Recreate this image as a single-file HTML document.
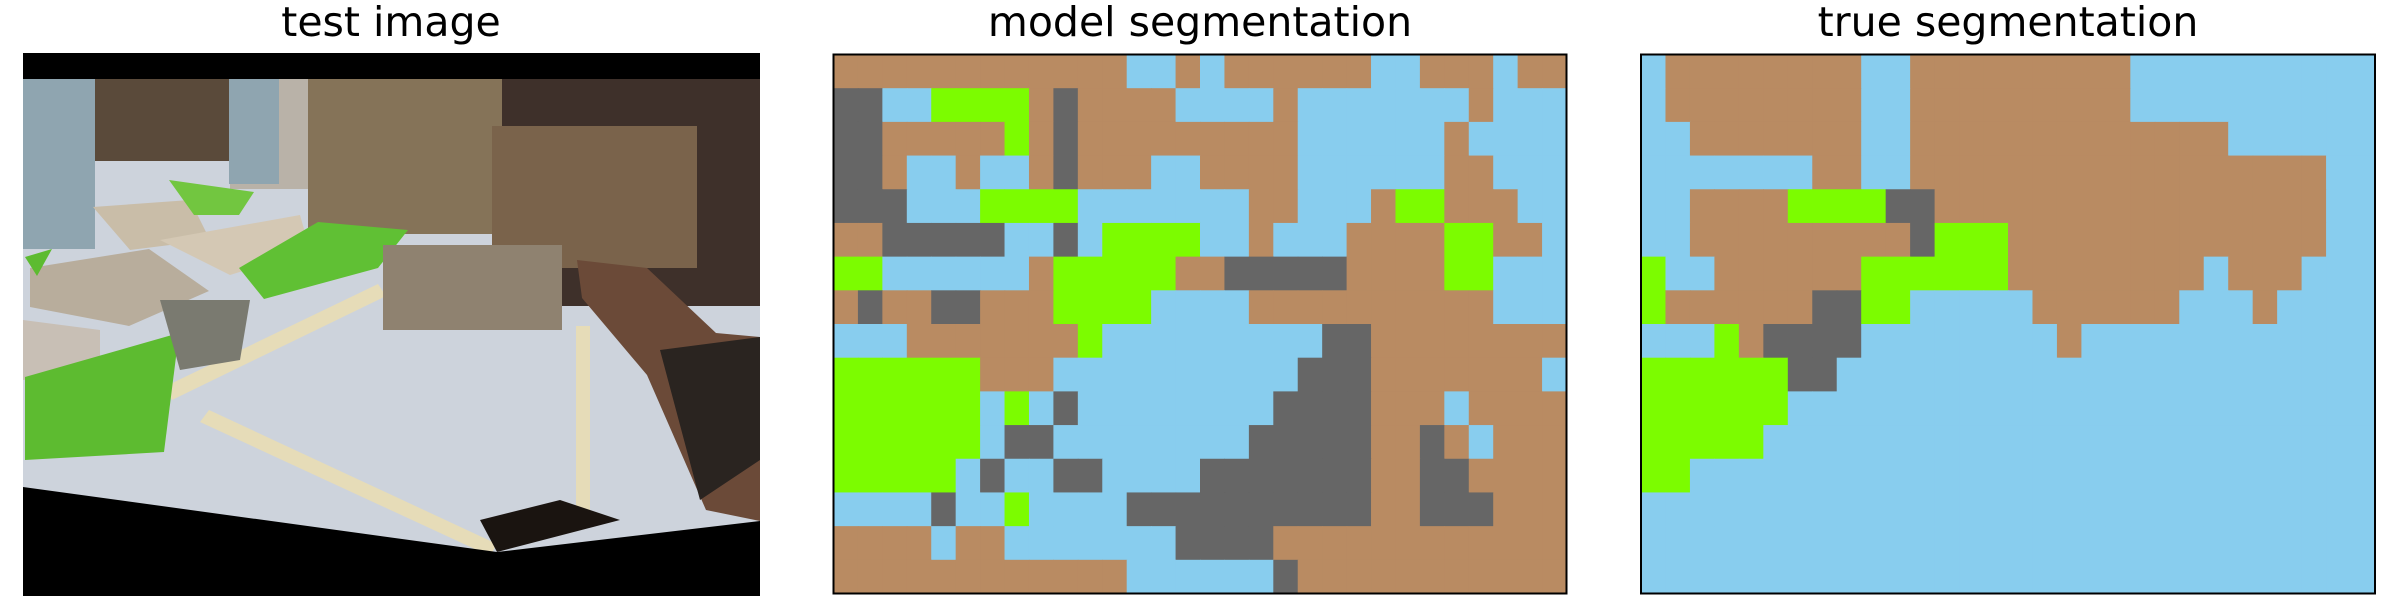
<!DOCTYPE html>
<html><head><meta charset="utf-8"><style>
html,body{margin:0;padding:0;background:#fff;width:2400px;height:600px;overflow:hidden}
svg{display:block}
text{font-family:"DejaVu Sans","Liberation Sans",sans-serif;font-size:41px;fill:#000}
</style></head><body>
<svg id="fig" width="2400" height="600" viewBox="0 0 2400 600">
<text x="391" y="36" text-anchor="middle">test image</text>
<text x="1200" y="36" text-anchor="middle">model segmentation</text>
<text x="2008" y="36" text-anchor="middle">true segmentation</text>
<g>
<clipPath id="imgclip"><rect x="23" y="53" width="737" height="543"/></clipPath>
<g clip-path="url(#imgclip)">
<rect x="23" y="53" width="737" height="543" fill="#cdd3dc"/>
<rect x="23" y="53" width="737" height="26" fill="#000"/>
<rect x="70" y="79" width="160" height="82" fill="#5a4a3a"/>
<rect x="230" y="79" width="80" height="110" fill="#b9b2a8"/>
<rect x="229" y="79" width="50" height="105" fill="#8fa5b0"/>
<rect x="23" y="79" width="72" height="170" fill="#8fa5b0"/>
<rect x="308" y="79" width="194" height="155" fill="#857358"/>
<rect x="502" y="79" width="258" height="227" fill="#3e302a"/>
<rect x="492" y="126" width="205" height="142" fill="#7a634b"/>
<polygon points="93,207 190,200 210,240 130,250" fill="#c9bda8"/>
<polygon points="160,240 300,215 310,250 230,275" fill="#d4c8b4"/>
<polygon points="30,268 149,249 209,291 129,326 30,307" fill="#b8ad9c"/>
<polygon points="23,320 100,330 100,370 23,380" fill="#c8bfb5"/>
<polygon points="164,387 378,284 386,296 172,400" fill="#e6dcb8"/>
<polygon points="209,410 497,544 490,556 200,422" fill="#e6dcb8"/>
<rect x="576" y="326" width="14" height="190" fill="#e6dcb8"/>
<polygon points="25,377 179,333 164,452 25,460" fill="#5dbb30"/>
<polygon points="239,268 318,222 408,230 378,268 264,299" fill="#60c034"/>
<polygon points="169,180 254,192 239,215 194,215" fill="#72c640"/>
<polygon points="25,257 52,249 37,276" fill="#5dbb30"/>
<polygon points="160,300 250,300 240,360 180,370" fill="#7a7a70"/>
<rect x="383" y="245" width="179" height="85" fill="#8f8270"/>
<polygon points="577,260 647,268 716,333 760,337 760,521 706,510 647,375 582,298" fill="#6b4a38"/>
<polygon points="660,350 760,337 760,460 700,500" fill="#2a2420"/>
<polygon points="23,487 497,552 760,521 760,596 23,596" fill="#000"/>
<polygon points="480,520 560,500 620,520 497,552" fill="#1a1410"/>
</g>
</g>
<g id="model"></g>
<g id="truth"></g>
<rect x="833.5" y="54.5" width="733" height="539" fill="none" stroke="#000" stroke-width="2"/>
<rect x="1641" y="54.5" width="734" height="539" fill="none" stroke="#000" stroke-width="2"/>
</svg>
<script>
const classColors = {B:"#b98b62", L:"#88cdee", G:"#7cfc00", D:"#666666"};
const modelRows = [
"BBBBBBBBBBBBLLBLBBBBBBLLBBBLBB",
"DDLLGGGGBDBBBBLLLLBLLLLLLLBLLL",
"DDBBBBBGBDBBBBBBBBBLLLLLLBLLLL",
"DDBLLBLLBDBBBLLBBBBLLLLLLBBLLL",
"DDDLLLGGGGLLLLLLLBBLLLBGGBBBLL",
"BBDDDDDLLDLGGGGLLBLLLBBBBGGBBL",
"GGLLLLLLBGGGGGBBDDDDDBBBBGGLLL",
"BDBBDDBBBGGGGLLLLBBBBBBBBBBLLL",
"LLLBBBBBBBGLLLLLLLLLDDBBBBBBBB",
"GGGGGGBBBLLLLLLLLLLDDDBBBBBBBL",
"GGGGGGLGLDLLLLLLLLDDDDBBBLBBBB",
"GGGGGGLDDLLLLLLLLDDDDDBBDBLBBB",
"GGGGGLDLLDDLLLLDDDDDDDBBDDBBBB",
"LLLLDLLGLLLLDDDDDDDDDDBBDDDBBB",
"BBBBLBBLLLLLLLDDDDBBBBBBBBBBBB",
"BBBBBBBBBBBBLLLLLLDBBBBBBBBBBB"
];
const trueRows = [
"LBBBBBBBBLLBBBBBBBBBLLLLLLLLLL",
"LBBBBBBBBLLBBBBBBBBBLLLLLLLLLL",
"LLBBBBBBBLLBBBBBBBBBBBBBLLLLLL",
"LLLLLLLBBLLBBBBBBBBBBBBBBBBBLL",
"LLBBBBGGGGDDBBBBBBBBBBBBBBBBLL",
"LLBBBBBBBBBDGGGBBBBBBBBBBBBBLL",
"GLLBBBBBBGGGGGGBBBBBBBBLBBBLLL",
"GBBBBBBDDGGLLLLLBBBBBBLLLBLLLL",
"LLLGBDDDDLLLLLLLLBLLLLLLLLLLLL",
"GGGGGGDDLLLLLLLLLLLLLLLLLLLLLL",
"GGGGGGLLLLLLLLLLLLLLLLLLLLLLLL",
"GGGGGLLLLLLLLLLLLLLLLLLLLLLLLL",
"GGLLLLLLLLLLLLLLLLLLLLLLLLLLLL",
"LLLLLLLLLLLLLLLLLLLLLLLLLLLLLL",
"LLLLLLLLLLLLLLLLLLLLLLLLLLLLLL",
"LLLLLLLLLLLLLLLLLLLLLLLLLLLLLL"
];
const NS = "http://www.w3.org/2000/svg";
function drawGrid(gid, rows, x0, y0, w, h){
  const g = document.getElementById(gid);
  const nr = rows.length, nc = rows[0].length;
  const cw = w/nc, ch = h/nr;
  rows.forEach((row, r) => {
    for (let c = 0; c < nc; c++) {
      const rect = document.createElementNS(NS, "rect");
      rect.setAttribute("x", (x0 + c*cw).toFixed(2));
      rect.setAttribute("y", (y0 + r*ch).toFixed(2));
      rect.setAttribute("width", (cw+0.6).toFixed(2));
      rect.setAttribute("height", (ch+0.6).toFixed(2));
      rect.setAttribute("fill", classColors[row[c]]);
      
      
      g.appendChild(rect);
    }
  });
}
drawGrid("model", modelRows, 833.5, 54.5, 733, 539);
drawGrid("truth", trueRows, 1641, 54.5, 734, 539);
</script>
</body></html>
